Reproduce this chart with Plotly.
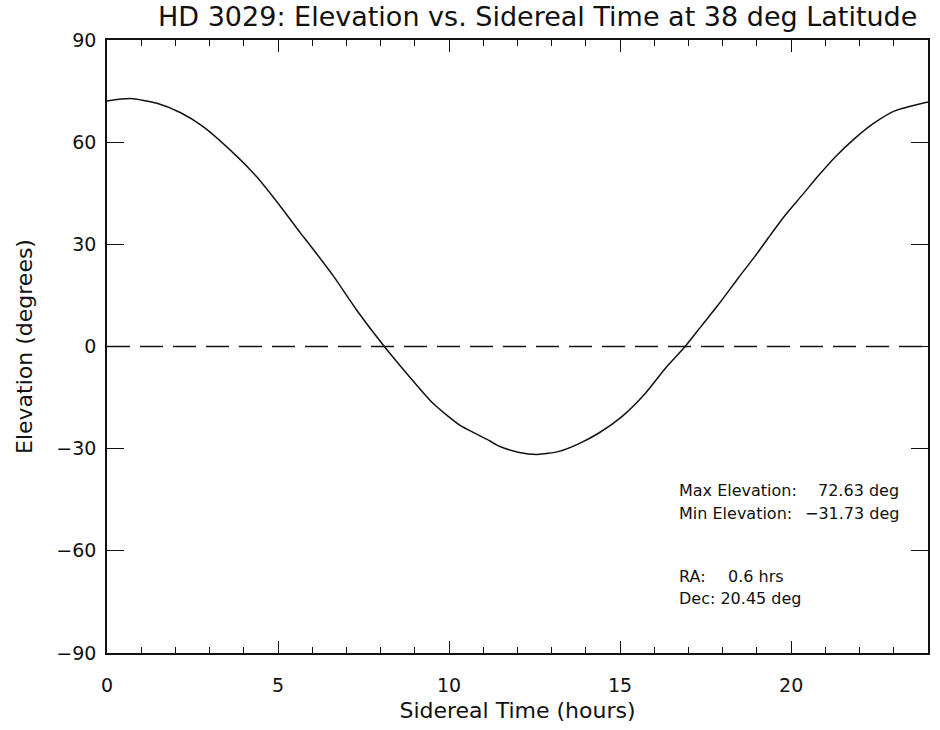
import plotly.graph_objects as go

# ---- data ----
sidereal_hours = [0.0, 0.68, 1.46, 2.14, 2.82, 3.79, 4.37, 5.15, 5.64, 5.93,
                  6.61, 7.29, 8.09, 8.75, 9.52, 10.30, 11.17, 11.47, 12.05, 12.58,
                  13.21, 13.80, 14.38, 15.06, 15.74, 16.33, 16.90, 17.39, 17.88, 18.46,
                  18.95, 19.34, 19.83, 20.31, 20.80, 21.28, 21.87, 22.45, 23.03, 24.0]
elevation_deg = [72.1, 72.8, 71.4, 68.7, 64.5, 55.9, 49.9, 40.1, 33.5, 29.8,
                 20.8, 10.8, 0.2, -7.8, -16.6, -23.0, -27.6, -29.3, -31.1, -31.7,
                 -30.8, -28.5, -25.4, -20.5, -13.7, -6.3, 0.0, 6.2, 12.4, 20.2,
                 26.6, 32.0, 38.6, 44.3, 50.2, 55.6, 61.2, 65.8, 69.2, 71.8]
horizon_x = [0, 24]
horizon_y = [0, 0]
x_range = [0, 24]
y_range = [-90, 90]
x_ticks = [0, 5, 10, 15, 20]
y_ticks = [-90, -60, -30, 0, 30, 60, 90]

title_text = "HD 3029: Elevation vs. Sidereal Time at 38 deg Latitude"
info_labels = ["Max Elevation:", "Min Elevation:", "RA:", "Dec: 20.45 deg"]
info_values = ["72.63 deg", "\u221231.73 deg", "0.6 hrs", ""]

FONT = "DejaVu Sans ExtraLight, DejaVu Sans"
INK = "#111111"

fig = go.Figure()
fig.add_trace(go.Scatter(x=horizon_x, y=horizon_y, mode="lines",
                         line=dict(color=INK, width=1.6, dash="23px,10px"),
                         hoverinfo="skip", showlegend=False))
fig.add_trace(go.Scatter(x=sidereal_hours, y=elevation_deg, mode="lines",
                         line=dict(color=INK, width=1.5, shape="spline", smoothing=0.6),
                         showlegend=False))

# text block (pixel positions converted to data coords)
label_y = [-42.4, -49.1, -67.6, -74.1]
for lab, yy in zip(info_labels, label_y):
    fig.add_annotation(x=16.67, y=yy, xref="x", yref="y", text=lab, showarrow=False,
                       xanchor="left", yanchor="middle",
                       font=dict(family=FONT, size=16, color=INK))
for i, val in enumerate(info_values):
    if not val:
        continue
    if i < 2:
        fig.add_annotation(x=23.2, y=label_y[i], xref="x", yref="y", text=val,
                           showarrow=False, xanchor="right", yanchor="middle",
                           font=dict(family=FONT, size=16, color=INK))
    else:
        fig.add_annotation(x=18.1, y=label_y[i], xref="x", yref="y", text=val,
                           showarrow=False, xanchor="left", yanchor="middle",
                           font=dict(family=FONT, size=16, color=INK))

axis_common = dict(showline=True, linecolor=INK, linewidth=1.6, mirror="ticks",
                   ticks="inside", tickcolor=INK, tickwidth=1.4, showgrid=False,
                   zeroline=False, tickfont=dict(family=FONT, size=19, color=INK))

fig.update_layout(
    width=940, height=730,
    margin=dict(l=107, r=10, t=40, b=77),
    paper_bgcolor="white", plot_bgcolor="white",
    title=dict(text=title_text, x=0.572, xanchor="center", y=0.978, yanchor="middle",
               xref="container", yref="container",
               font=dict(family=FONT, size=27, color=INK)),
    xaxis=dict(range=x_range, tickvals=x_ticks, ticklen=12,
               minor=dict(dtick=1, tick0=0, ticklen=6, ticks="inside", tickcolor=INK, tickwidth=1.2),
               ticklabelstandoff=14,
               title=dict(text="Sidereal Time (hours)", standoff=8,
                          font=dict(family=FONT, size=22, color=INK)),
               **axis_common),
    yaxis=dict(range=y_range, tickvals=y_ticks, ticklen=17,
               ticklabelstandoff=5,
               title=dict(text="Elevation (degrees)", standoff=18,
                          font=dict(family=FONT, size=22, color=INK)),
               **axis_common),
)

fig.write_html("out.html")
